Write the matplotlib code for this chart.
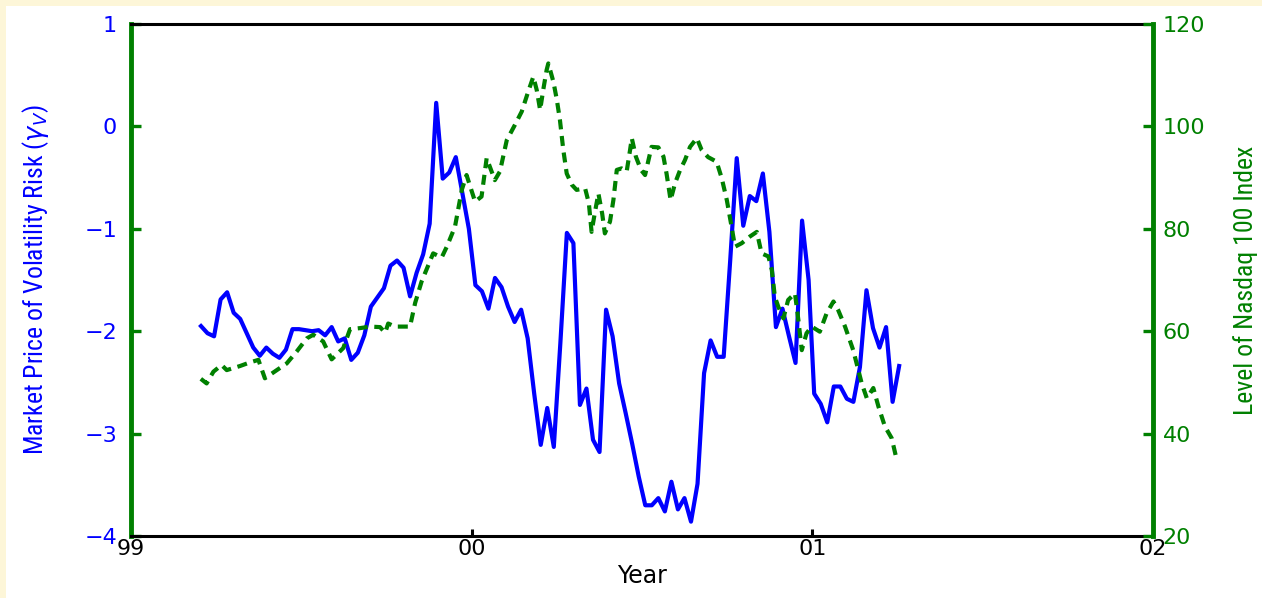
import numpy as np
import pandas as pd
import matplotlib
matplotlib.use('Agg')
import matplotlib.pyplot as plt
from matplotlib import font_manager
from matplotlib.patches import Rectangle

# weekly market price of volatility risk (left axis)
gamma_v = [-1.95, -2.02, -2.05, -1.69, -1.62, -1.82, -1.88, -2.02, -2.16, -2.24,
           -2.16, -2.22, -2.26, -2.18, -1.98, -1.98, -1.99, -2.00, -1.99, -2.04,
           -1.96, -2.10, -2.07, -2.28, -2.21, -2.04, -1.76, -1.67, -1.58, -1.36,
           -1.31, -1.38, -1.66, -1.43, -1.25, -0.95, 0.23, -0.51, -0.45, -0.30,
           -0.65, -1.00, -1.55, -1.61, -1.78, -1.48, -1.57, -1.76, -1.91, -1.79,
           -2.07, -2.61, -3.11, -2.75, -3.13, -2.12, -1.04, -1.14, -2.72, -2.56,
           -3.06, -3.18, -1.79, -2.05, -2.51, -2.80, -3.10, -3.42, -3.70, -3.70,
           -3.63, -3.76, -3.47, -3.74, -3.63, -3.86, -3.49, -2.41, -2.09, -2.25,
           -2.25, -1.31, -0.31, -0.97, -0.68, -0.73, -0.46, -1.03, -1.96, -1.78,
           -2.05, -2.31, -0.92, -1.50, -2.61, -2.71, -2.89, -2.54, -2.54, -2.66,
           -2.69, -2.35, -1.60, -1.97, -2.16, -1.96, -2.69, -2.34]
gamma_dates = pd.date_range('1999-03-17', periods=len(gamma_v), freq='7D')

# Nasdaq 100 level (right axis), dates in decimal years
ndx_year = [1999.205, 1999.222, 1999.242, 1999.266, 1999.281, 1999.320, 1999.349, 1999.374,
            1999.393, 1999.428, 1999.457, 1999.486, 1999.516, 1999.535, 1999.564, 1999.589,
            1999.623, 1999.643, 1999.672, 1999.702, 1999.731, 1999.746, 1999.755, 1999.775,
            1999.819, 1999.834, 1999.853, 1999.887, 1999.912, 1999.927, 1999.951, 1999.971,
            1999.985, 2000.010, 2000.029, 2000.044, 2000.068, 2000.083, 2000.103, 2000.127,
            2000.147, 2000.166, 2000.181, 2000.191, 2000.201, 2000.210, 2000.220, 2000.225,
            2000.240, 2000.250, 2000.259, 2000.269, 2000.279, 2000.294, 2000.308, 2000.333,
            2000.344, 2000.352, 2000.362, 2000.372, 2000.383, 2000.391, 2000.406, 2000.416,
            2000.426, 2000.440, 2000.455, 2000.465, 2000.470, 2000.482, 2000.497, 2000.509,
            2000.519, 2000.528, 2000.548, 2000.563, 2000.572, 2000.584, 2000.597, 2000.612,
            2000.626, 2000.641, 2000.661, 2000.675, 2000.694, 2000.719, 2000.734, 2000.749,
            2000.763, 2000.773, 2000.793, 2000.817, 2000.837, 2000.851, 2000.871, 2000.881,
            2000.890, 2000.900, 2000.915, 2000.929, 2000.949, 2000.959, 2000.969, 2000.983,
            2000.998, 2001.022, 2001.042, 2001.062, 2001.076, 2001.096, 2001.120, 2001.135,
            2001.145, 2001.160, 2001.179, 2001.194, 2001.213, 2001.233, 2001.248]
ndx_level = [50.7, 49.8, 52.1, 53.4, 52.4, 53.2, 53.9, 54.4, 50.8, 52.4,
             53.7, 56.0, 58.6, 59.3, 58.0, 54.5, 56.7, 60.4, 60.6, 60.9,
             60.8, 59.7, 61.5, 60.9, 60.9, 65.5, 69.7, 75.2, 74.4, 76.5,
             80.4, 87.6, 90.5, 85.3, 86.3, 93.8, 89.5, 91.2, 97.3, 100.3,
             102.9, 106.8, 109.7, 107.1, 103.2, 107.1, 111.0, 112.3, 108.7, 105.2,
             101.3, 95.4, 90.8, 88.6, 87.6, 87.9, 85.0, 79.4, 83.3, 86.9,
             83.0, 79.1, 81.4, 85.6, 91.5, 91.8, 91.2, 95.4, 97.7, 94.1,
             91.5, 90.5, 93.4, 96.0, 95.9, 94.1, 90.8, 85.6, 88.9, 91.5,
             93.4, 96.0, 97.7, 95.4, 94.0, 93.1, 89.9, 85.6, 80.4, 76.5,
             77.2, 78.5, 79.4, 75.2, 74.6, 72.0, 66.7, 64.8, 62.5, 66.1,
             67.4, 62.2, 56.3, 59.6, 60.9, 59.9, 63.5, 65.8, 64.1, 60.9,
             56.3, 52.4, 49.8, 46.9, 48.9, 45.3, 41.4, 39.1, 34.8]

year_ticks = [1999, 2000, 2001, 2002]
year_labels = ['99', '00', '01', '02']
left_ticks = [1, 0, -1, -2, -3, -4]
right_ticks = [120, 100, 80, 60, 40, 20]

GREEN = '#008000'
BLUE = '#0000ff'

# narrow face for the rotated axis titles, if one is around
installed = {f.name for f in font_manager.fontManager.ttflist}
narrow = 'DejaVu Sans'
for name in ['Liberation Sans Narrow', 'Roboto Condensed', 'Open Sans Condensed',
             'DejaVu Sans Condensed', 'Noto Sans Condensed']:
    if name in installed:
        narrow = name
        break
has_cond = any(f.name == 'DejaVu Sans' and f.stretch == 'condensed'
               for f in font_manager.fontManager.ttflist)
stretch = 'condensed' if has_cond else 'normal'
ylab_size = 18.5 if narrow != 'DejaVu Sans' or has_cond else 15

gamma_year = gamma_dates.year + (gamma_dates.dayofyear - 1) / 365.0

fig = plt.figure(figsize=(12.62, 5.98), dpi=100)
fig.patch.set_facecolor('#fdf6d8')
fig.patches.append(Rectangle((6 / 1262, 0), 1, 1 - 6 / 598, transform=fig.transFigure,
                             facecolor='white', edgecolor='none', zorder=-10))

ax = fig.add_axes([131 / 1262, 62 / 598, 1022 / 1262, 512 / 598])
ax.patch.set_alpha(0)
ax.plot(gamma_year, gamma_v, color=BLUE, lw=3)
ax.set_xlim(1999, 2002)
ax.set_ylim(-4, 1)
ax.set_xticks(year_ticks)
ax.set_xticklabels(year_labels)
ax.set_yticks(left_ticks)
ax.tick_params(axis='y', direction='in', length=7, width=2.4, color=GREEN,
               labelcolor=BLUE, labelsize=16, pad=10)
ax.tick_params(axis='x', direction='in', length=5, width=2.2, color='black',
               labelsize=16, pad=2)
for s in ['top', 'bottom']:
    ax.spines[s].set_linewidth(2.2)
ax.spines['left'].set_color(GREEN)
ax.spines['left'].set_linewidth(3.5)
ax.set_xlabel('Year', fontsize=17, labelpad=4)
ax.set_ylabel(r'Market Price of Volatility Risk ($\gamma_V$)', color=BLUE,
              fontsize=ylab_size, family=narrow, fontstretch=stretch, labelpad=24)

ax2 = ax.twinx()
ax2.plot(ndx_year, ndx_level, color=GREEN, lw=3, linestyle=(0, (2.4, 1.6)))
ax2.set_ylim(20, 120)
ax2.set_yticks(right_ticks)
ax2.tick_params(axis='y', direction='in', length=7, width=2.4, color=GREEN,
                labelcolor=GREEN, labelsize=16, pad=7)
ax2.spines['right'].set_color(GREEN)
ax2.spines['right'].set_linewidth(3.5)
ax2.spines['left'].set_visible(False)
ax2.spines['top'].set_visible(False)
ax2.spines['bottom'].set_visible(False)
ax2.set_ylabel('Level of Nasdaq 100 Index', color=GREEN, fontsize=ylab_size,
               family=narrow, fontstretch=stretch, labelpad=20)

fig.savefig('out.png', dpi=100, facecolor=fig.get_facecolor())
